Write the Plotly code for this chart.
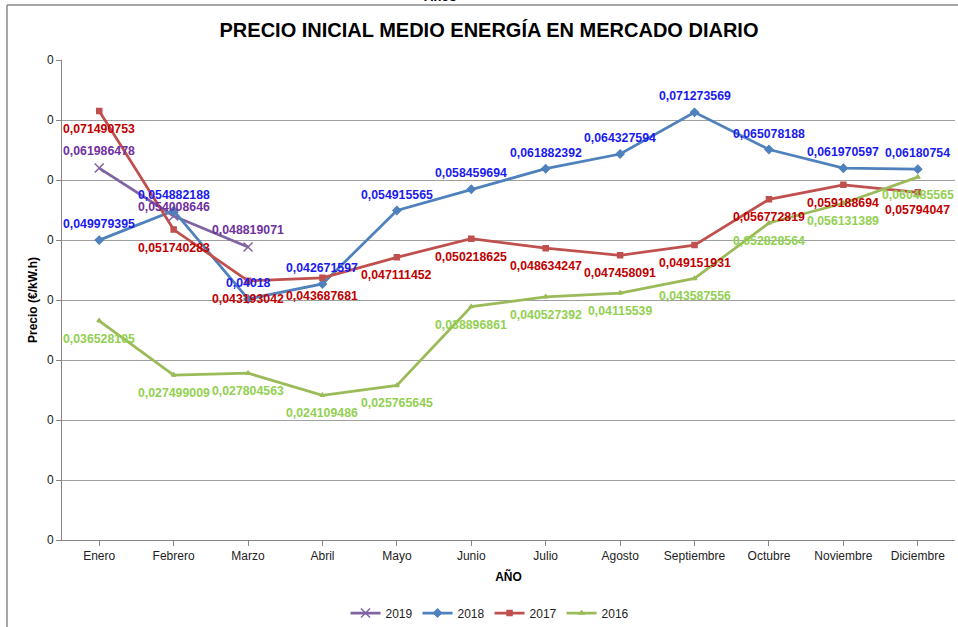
import plotly.graph_objects as go

meses = ["Enero", "Febrero", "Marzo", "Abril", "Mayo", "Junio", "Julio",
         "Agosto", "Septiembre", "Octubre", "Noviembre", "Diciembre"]

v2019 = [0.061986478, 0.054008646, 0.048819071]
v2018 = [0.049979395, 0.054882188, 0.04018, 0.042671597, 0.054915565, 0.058459694,
         0.061882392, 0.064327594, 0.071273569, 0.065078188, 0.061970597, 0.06180754]
v2017 = [0.071490753, 0.051740283, 0.043193042, 0.043687681, 0.047111452, 0.050218625,
         0.048634247, 0.047458091, 0.049151931, 0.056772819, 0.059188694, 0.05794047]
v2016 = [0.036528105, 0.027499009, 0.027804563, 0.024109486, 0.025765645, 0.038896861,
         0.040527392, 0.04115539, 0.043587556, 0.052828564, 0.056131389, 0.060485565]

ytick_vals = [0, 0.01, 0.02, 0.03, 0.04, 0.05, 0.06, 0.07, 0.08]
ytick_text = ["0"] * len(ytick_vals)

FONT = "Liberation Sans, Arial, sans-serif"


def lbl(x):
    return str(x).replace(".", ",")


# name, values, line colour, label colour, marker, marker size, label shift (px, up +)
series = [
    ("2019", v2019, "#8064A2", "#7030A0", "x-thin", 9, 17),
    ("2018", v2018, "#4F81BD", "#1A1AF0", "diamond", 6, 16),
    ("2017", v2017, "#C0504D", "#C00000", "square", 5, -18),
    ("2016", v2016, "#9BBB59", "#92D050", "triangle-up", 4, -18),
]
# individual label shift overrides (series, month index) -> shift
shift_override = {("2019", 1): 9}

fig = go.Figure()
for name, vals, lc, tc, sym, ms, sh in series:
    xs = meses[:len(vals)]
    fig.add_trace(go.Scatter(
        x=xs, y=vals, name=name,
        mode="lines+markers",
        line=dict(color=lc, width=2.75),
        marker=dict(symbol=sym, size=ms, color=lc,
                    line=dict(color=lc, width=1.5)),
        cliponaxis=False, hoverinfo="skip",
    ))
    for i, (xv, yv) in enumerate(zip(xs, vals)):
        fig.add_annotation(
            x=xv, y=yv, xref="x", yref="y", text=lbl(yv), showarrow=False,
            xanchor="center", yanchor="middle",
            yshift=shift_override.get((name, i), sh),
            font=dict(family=FONT, size=12.3, color=tc, weight="bold"),
        )

W, H = 958, 627
L, R, T, B = 62, 3, 60, 87
pw, ph = W - L - R, H - T - B


def px(x):
    return (x - L) / pw


def py(y):
    return (H - B - y) / ph


fig.update_layout(
    width=W, height=H,
    margin=dict(l=L, r=R, t=T, b=B, autoexpand=False),
    paper_bgcolor="white", plot_bgcolor="white",
    font=dict(family=FONT, size=12, color="#222222"),
    title=dict(text="<b>PRECIO INICIAL MEDIO ENERGÍA EN MERCADO DIARIO</b>",
               font=dict(family=FONT, size=20, color="black"),
               x=px(489), xanchor="center", xref="paper",
               y=1 - 30 / H, yanchor="middle", automargin=False),
    showlegend=True,
    legend=dict(orientation="h", x=px(490), xanchor="center",
                y=py(613), yanchor="middle",
                font=dict(family=FONT, size=12, color="#222222"),
                itemwidth=30, tracegroupgap=0),
    xaxis=dict(
        type="category", categoryorder="array", categoryarray=meses,
        range=[-0.5, 11.5], showgrid=False, automargin=False,
        showline=True, linecolor="#868686", linewidth=1,
        ticks="outside", ticklen=5, tickcolor="#868686",
        tickfont=dict(family=FONT, size=12, color="#222222"),
        title=dict(text="<b>AÑO</b>", font=dict(family=FONT, size=12, color="black"),
                   standoff=10),
    ),
    yaxis=dict(
        range=[0, 0.08], tickvals=ytick_vals, ticktext=ytick_text,
        showgrid=True, gridcolor="#A0A0A0", gridwidth=1, automargin=False,
        showline=True, linecolor="#868686", linewidth=1,
        ticks="outside", ticklen=5, tickcolor="#868686",
        tickfont=dict(family=FONT, size=12, color="#222222"),
        zeroline=False,
        title=dict(text="<b>Precio (€/kW.h)</b>",
                   font=dict(family=FONT, size=12, color="black"), standoff=6),
    ),
)

# outer chart frame
fig.add_shape(type="line", xref="paper", yref="paper",
              x0=px(7), x1=px(960), y0=py(5), y1=py(5),
              line=dict(color="#8A8A8A", width=1.5))
fig.add_shape(type="line", xref="paper", yref="paper",
              x0=px(7), x1=px(7), y0=py(5), y1=py(630),
              line=dict(color="#8A8A8A", width=1.5))

fig.add_annotation(text="<b>Años</b>", xref="paper", yref="paper",
                   x=px(440), y=py(-3), xanchor="center", yanchor="middle",
                   showarrow=False, font=dict(family=FONT, size=13, color="black"))

fig.write_html("out.html",
               config={"displayModeBar": False},
               post_script="document.body.style.margin='0';document.body.style.overflow='hidden';")
